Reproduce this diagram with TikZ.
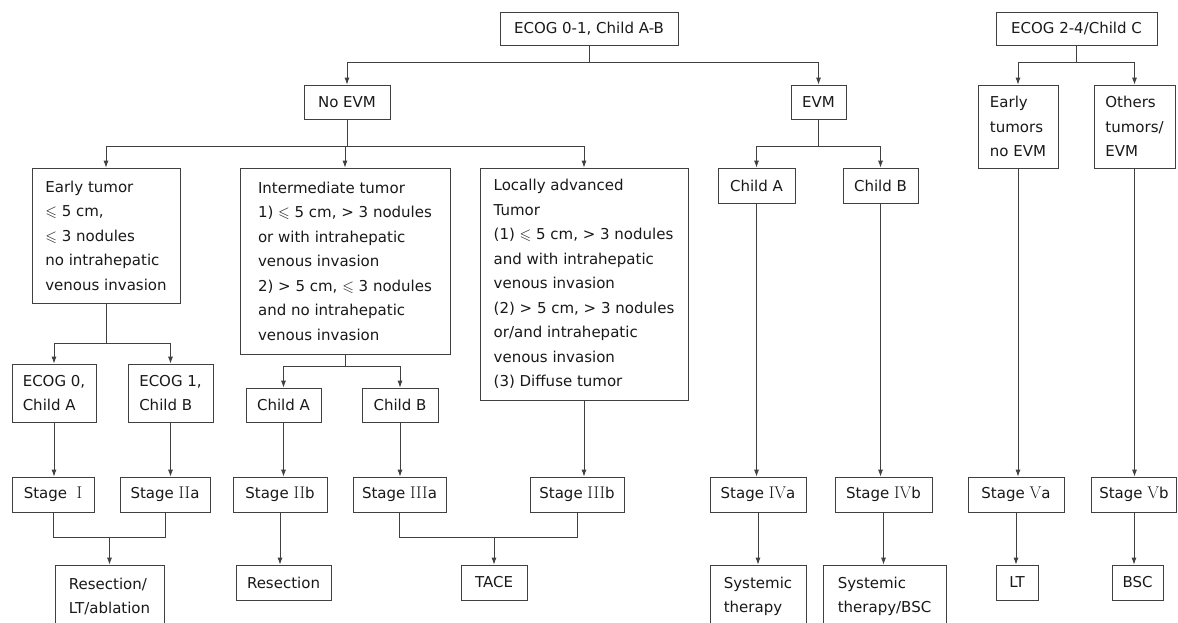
\documentclass[tikz,border=0pt]{standalone}
\usepackage{amsmath}
\usepackage{amssymb}
\usepackage{fontspec}
\setsansfont{DejaVu Sans}
\usepackage{tikz}
\usetikzlibrary{arrows.meta}

\newcommand{\rmn}[1]{\textrm{\fontsize{17}{17}\selectfont #1}}
\newcommand{\lqs}{\ensuremath{\leqslant}}

\begin{document}
\begin{tikzpicture}[x=1pt,y=-1pt,
  blk/.style n args={2}{draw=black!75, line width=0.8pt, align=left, inner sep=0pt,
    text=black!90, minimum width=#1*1pt, minimum height=#2*1pt,
    font=\fontsize{15}{24.5}\selectfont\sffamily},
  arr/.style={draw=black!75, line width=0.8pt, -{Latex[length=7pt,width=5pt]}},
  ln/.style={draw=black!75, line width=0.8pt}]
  \path[fill=white,use as bounding box] (0,0) rectangle (1178,622);

  \node[blk={178}{33}] (ecogAB) at (589,28.5) {ECOG 0-1, Child A-B};
  \node[blk={161}{33}] (ecogC) at (1076.5,28.5) {ECOG 2-4/Child C};
  \node[blk={86}{34}] (noevm) at (347,102) {No EVM};
  \node[blk={55}{34}] (evm) at (818.5,102) {EVM};
  \node[blk={80}{83}] (earlyC) at (1018,126.5) {Early\\tumors\\no EVM};
  \node[blk={81}{83}] (othersC) at (1134.5,126.5) {Others\\tumors/\\EVM};

  \node[blk={148}{135}] (early) at (106,235.5)
    {Early tumor\\\lqs\ 5 cm,\\\lqs\ 3 nodules\\no intrahepatic\\venous invasion};
  \node[blk={210}{186}] (inter) at (345,261)
    {Intermediate tumor\\1) \lqs\ 5 cm, > 3 nodules\\or with intrahepatic\\venous invasion\\2) > 5 cm, \lqs\ 3 nodules\\and no intrahepatic\\venous invasion};
  \node[blk={208}{232}] (local) at (584,284)
    {Locally advanced\\Tumor\\(1) \lqs\ 5 cm, > 3 nodules\\and with intrahepatic\\venous invasion\\(2) > 5 cm, > 3 nodules\\or/and intrahepatic\\venous invasion\\(3) Diffuse tumor};
  \node[blk={77}{35}] (childAe) at (756.5,185.5) {Child A};
  \node[blk={75}{35}] (childBe) at (880.5,185.5) {Child B};

  \node[blk={84}{58}] (ecog0) at (54,393) {ECOG 0,\\Child A};
  \node[blk={85}{58}] (ecog1) at (170.5,393) {ECOG 1,\\Child B};
  \node[blk={75}{34}] (childAi) at (283.5,405) {Child A};
  \node[blk={76}{34}] (childBi) at (400,405) {Child B};

  \foreach \n/\x/\w/\t in {stI/53/82/Stage\ \ \rmn{I}, stIIa/165/90/Stage \rmn{II}a,
      stIIb/280/94/Stage \rmn{II}b, stIIIa/399.5/93/Stage \rmn{III}a,
      stIIIb/577/94/Stage \rmn{III}b, stIVa/758/96/Stage \rmn{IV}a,
      stIVb/883.5/97/Stage \rmn{IV}b, stVa/1016/96/Stage \rmn{V}a,
      stVb/1134/85/Stage \rmn{V}b} {
    \node[blk={\w}{35}] (\n) at (\x,494.5) {\t};
  }

  \node[blk={109}{63}] (resLT) at (109.5,596.5) {Resection/\\LT/ablation};
  \node[blk={95}{35}] (res) at (283.5,582.5) {Resection};
  \node[blk={66}{35}] (tace) at (494,582.5) {TACE};
  \node[blk={96}{63}] (sysT) at (758,596.5) {Systemic\\therapy};
  \node[blk={123}{63}] (sysB) at (884.5,596.5) {Systemic\\therapy/BSC};
  \node[blk={42}{35}] (lt) at (1017,582.5) {LT};
  \node[blk={51}{35}] (bsc) at (1137.5,582.5) {BSC};

  \foreach \p/\c/\y in {ecogAB/noevm/62, ecogAB/evm/62, ecogC/earlyC/62, ecogC/othersC/62,
      noevm/early/146, noevm/inter/146, noevm/local/146, evm/childAe/146, evm/childBe/146,
      early/ecog0/343, early/ecog1/343, inter/childAi/366, inter/childBi/366} {
    \draw[arr] (\p.south) -- (\p.south |- 0,\y) -| (\c.north);
  }
  \foreach \a/\b in {ecog0/stI, ecog1/stIIa, childAi/stIIb, childBi/stIIIa, local/stIIIb,
      childAe/stIVa, childBe/stIVb, earlyC/stVa, othersC/stVb,
      stIIb/res, stIVa/sysT, stIVb/sysB, stVa/lt, stVb/bsc} {
    \draw[arr] (\a.south) -- (\a.south |- \b.north);
  }
  \draw[ln] (stI.south) -- (stI.south |- 0,537) -| (stIIa.south);
  \draw[arr] (resLT.north |- 0,537) -- (resLT.north);
  \draw[ln] (stIIIa.south) -- (stIIIa.south |- 0,537) -| (stIIIb.south);
  \draw[arr] (tace.north |- 0,537) -- (tace.north);
\end{tikzpicture}
\end{document}
